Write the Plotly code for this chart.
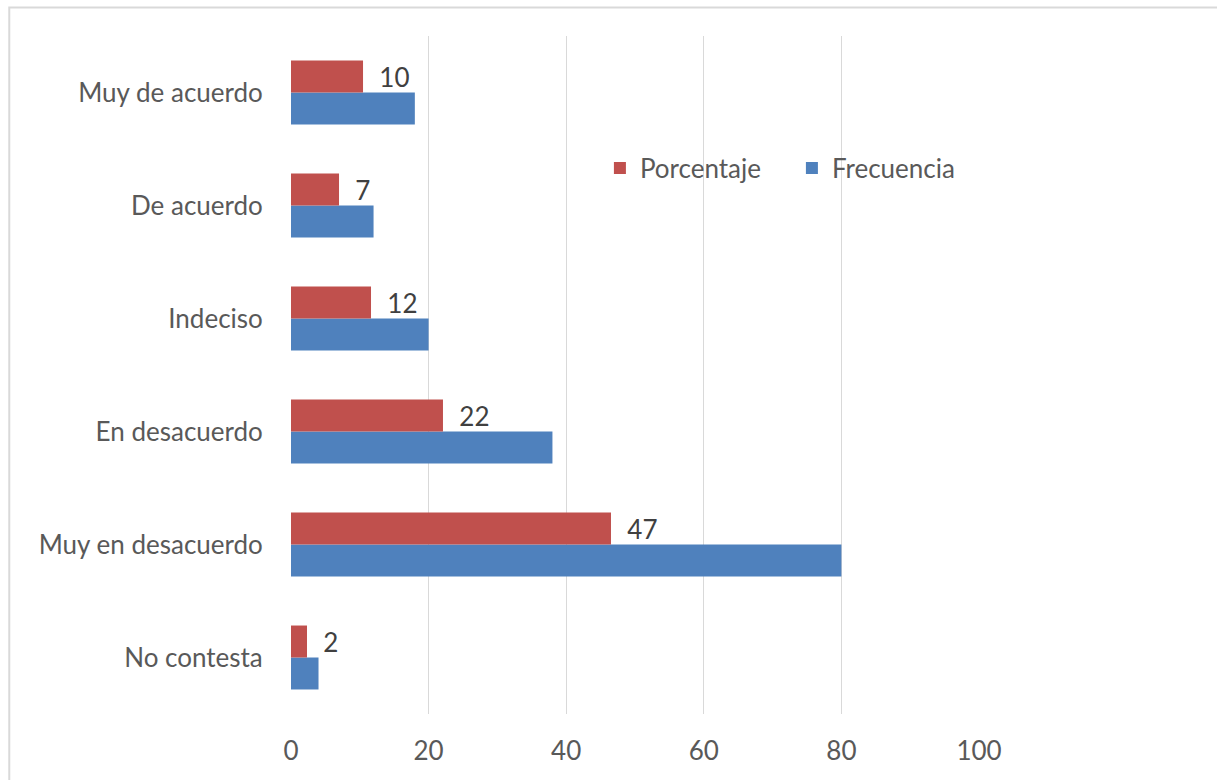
import plotly.graph_objects as go

categories = ["No contesta", "Muy en desacuerdo", "En desacuerdo", "Indeciso", "De acuerdo", "Muy de acuerdo"]
frecuencia = [4, 80, 38, 20, 12, 18]
porcentaje = [2.33, 46.51, 22.09, 11.63, 6.98, 10.47]
porcentaje_labels = ["2", "47", "22", "12", "7", "10"]
x_ticks = [0, 20, 40, 60, 80, 100]

FONT = "Lato, Calibri, sans-serif"
TXT = "#595959"

fig = go.Figure()
fig.add_trace(go.Bar(
    y=categories, x=frecuencia, orientation="h", name="Frecuencia",
    marker=dict(color="#4F81BD", line=dict(width=0)),
))
fig.add_trace(go.Bar(
    y=categories, x=porcentaje, orientation="h", name="Porcentaje",
    marker=dict(color="#C0504D", line=dict(width=0)),
    text=["  " + t for t in porcentaje_labels], textposition="outside",
    textfont=dict(family=FONT, size=26, color="#404040"),
    constraintext="none", cliponaxis=False,
))

fig.update_layout(
    width=1217, height=780,
    margin=dict(l=291, r=238, t=36, b=66),
    paper_bgcolor="white", plot_bgcolor="white",
    barmode="group", bargap=0.434, bargroupgap=0,
    font=dict(family=FONT, size=26, color=TXT),
    showlegend=True,
    legend=dict(
        orientation="h", traceorder="reversed",
        x=0.449, xanchor="left", y=0.805, yanchor="middle",
        bgcolor="rgba(0,0,0,0)", font=dict(family=FONT, size=26, color=TXT),
        entrywidth=147, entrywidthmode="pixels",
    ),
    xaxis=dict(
        range=[0, 100], tickvals=x_ticks, showgrid=True, gridcolor="#d9d9d9", gridwidth=1,
        zeroline=False, showline=False, ticks="outside", ticklen=14, tickcolor="rgba(0,0,0,0)",
        tickfont=dict(family=FONT, size=26, color=TXT), fixedrange=True,
    ),
    yaxis=dict(
        categoryorder="array", categoryarray=categories,
        showgrid=False, zeroline=False, showline=False,
        ticks="outside", ticklen=22, tickcolor="rgba(0,0,0,0)",
        tickfont=dict(family=FONT, size=26, color=TXT), fixedrange=True,
    ),
    shapes=[dict(
        type="rect", xref="paper", yref="paper",
        x0=-0.4095, x1=1.6, y0=-0.3, y1=1.042,
        line=dict(color="#d9d9d9", width=2), layer="below",
    )],
)

fig.write_html("out.html")
